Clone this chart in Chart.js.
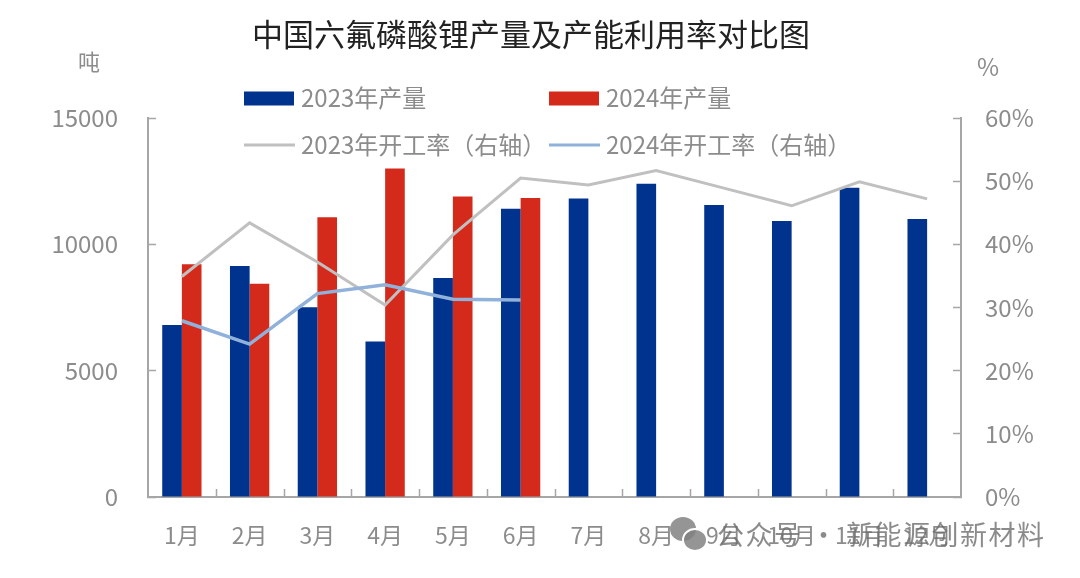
<!DOCTYPE html>
<html>
<head>
<meta charset="utf-8">
<style>html,body{margin:0;padding:0;background:#fff}canvas{display:block}</style>
<script src="https://cdn.jsdelivr.net/npm/chart.js@4"></script>
</head>
<body>
<canvas id="c" width="1080" height="578"></canvas>
<script>
const categories = ['1月','2月','3月','4月','5月','6月','7月','8月','9月','10月','11月','12月'];
const output2023 = [6810,9140,7510,6150,8670,11410,11810,12400,11560,10920,12240,11000];
const output2024 = [9210,8440,11070,13000,11890,11830,null,null,null,null,null,null];
const rate2023 = [34.9,43.4,37.2,30.4,41.5,50.5,49.4,51.7,48.9,46.1,49.9,47.2];
const rate2024 = [27.9,24.2,32.2,33.6,31.3,31.2,null,null,null,null,null,null];
const titleText = '中国六氟磷酸锂产量及产能利用率对比图';
const leftUnit = '吨';
const rightUnit = '%';
const watermark = '公众号 · 新能源创新材料';

const FONT = '"Noto Sans CJK SC","Noto Sans",sans-serif';
const TICK = '#8c8c8c', AXIS = '#a6a6a6';

const overlay = {
  id: 'overlay',
  afterDraw(chart) {
    const c = chart.ctx;
    c.save();

    const xs = chart.scales.x;
    const half = (xs.getPixelForTick(1) - xs.getPixelForTick(0)) / 2;
    c.strokeStyle = AXIS;
    c.lineWidth = 1.5;
    categories.forEach((_, i) => {
      if (i === 0) return;
      const px = Math.round(xs.getPixelForTick(i) - half) + 0.5;
      c.beginPath();
      c.moveTo(px, xs.top);
      c.lineTo(px, xs.top - 8);
      c.stroke();
    });

    c.textBaseline = 'middle';
    c.textAlign = 'left';
    c.fillStyle = TICK;
    c.font = '22px ' + FONT;
    c.fillText(leftUnit, 78, 62);
    c.font = '24px ' + FONT;
    c.fillText(rightUnit, 977, 67);

    const slots = [[244, 98], [549, 98], [244, 145], [549, 145]];
    chart.data.datasets.forEach((d, i) => {
      const [x, y] = slots[i];
      if (d.type === 'bar') {
        c.fillStyle = d.backgroundColor;
        c.fillRect(x, y - 6.5, 50, 14);
      } else {
        c.strokeStyle = d.borderColor;
        c.lineWidth = 3;
        c.beginPath();
        c.moveTo(x, y);
        c.lineTo(x + 51, y);
        c.stroke();
      }
      c.fillStyle = TICK;
      c.font = '24px ' + FONT;
      c.fillText(d.label, x + 57, y);
    });

    c.fillStyle = 'rgba(130,130,130,0.85)';
    c.beginPath(); c.ellipse(683, 529, 13, 12, 0, 0, Math.PI * 2); c.fill();
    c.strokeStyle = '#fff'; c.lineWidth = 2;
    c.beginPath(); c.ellipse(695, 540, 12, 11, 0, 0, Math.PI * 2); c.fill(); c.stroke();
    c.fillStyle = 'rgba(110,110,110,0.8)';
    c.font = '27px ' + FONT;
    c.letterSpacing = '1.5px';
    c.fillText(watermark, 717, 535);
    c.restore();
  }
};

new Chart(document.getElementById('c'), {
  data: {
    labels: categories,
    datasets: [
      { type: 'bar', label: '2023年产量', data: output2023, backgroundColor: '#00338d', yAxisID: 'y', order: 3 },
      { type: 'bar', label: '2024年产量', data: output2024, backgroundColor: '#d42a1b', yAxisID: 'y', order: 3 },
      { type: 'line', label: '2023年开工率（右轴）', data: rate2023, borderColor: '#c0c0c0', borderWidth: 3, pointRadius: 0, tension: 0, yAxisID: 'y1', order: 2 },
      { type: 'line', label: '2024年开工率（右轴）', data: rate2024, borderColor: '#8fb1da', borderWidth: 3.5, pointRadius: 0, tension: 0, yAxisID: 'y1', order: 1 }
    ]
  },
  options: {
    responsive: false,
    animation: false,
    layout: { padding: { top: 16, left: 0, right: 18, bottom: 0 } },
    datasets: { bar: { barPercentage: 1, categoryPercentage: 0.58 } },
    plugins: {
      legend: { display: false },
      tooltip: { enabled: false },
      title: {
        display: true, text: titleText, color: '#222',
        font: { family: FONT, size: 31, weight: 'normal', lineHeight: 1.2 },
        padding: { top: 0, bottom: 64.8 }
      }
    },
    scales: {
      x: {
        offset: true,
        grid: { offset: true, drawOnChartArea: false, drawTicks: false },
        border: { color: AXIS, width: 2 },
        ticks: { color: TICK, font: { family: FONT, size: 23 }, padding: 24, maxRotation: 0, autoSkip: false },
        afterFit(s) { s.height = 81; }
      },
      y: {
        position: 'left', min: 0, max: 15000,
        grid: { drawOnChartArea: false, tickColor: AXIS, tickWidth: 1.5, tickLength: -8 },
        border: { color: AXIS, width: 2 },
        ticks: { stepSize: 5000, color: TICK, font: { family: FONT, size: 24 }, padding: 38, callback: v => String(v) },
        afterFit(s) { s.width = 148; }
      },
      y1: {
        position: 'right', min: 0, max: 60,
        grid: { drawOnChartArea: false, tickColor: AXIS, tickWidth: 1.5, tickLength: -8 },
        border: { color: AXIS, width: 2 },
        ticks: { stepSize: 10, color: TICK, font: { family: FONT, size: 24 }, padding: 32, callback: v => v + '%' },
        afterFit(s) { s.width = 101; }
      }
    }
  },
  plugins: [overlay]
});
</script>
</body>
</html>
